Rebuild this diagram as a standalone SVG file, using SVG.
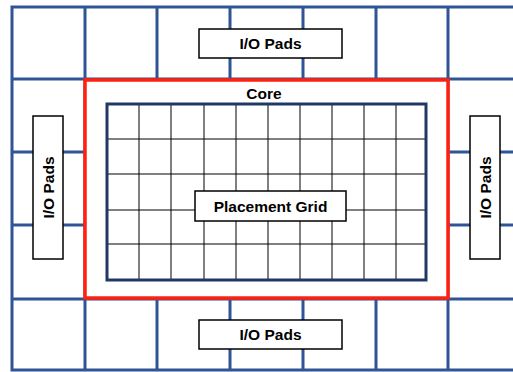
<svg xmlns="http://www.w3.org/2000/svg" width="513" height="372" viewBox="0 0 513 372">
<style>
.blue{stroke:#2F5597;stroke-width:3;fill:none;stroke-linecap:square}
.grid{stroke:#000;stroke-width:1;fill:none}
.box{fill:#fff;stroke:#000;stroke-width:1.5}
.lbl{font-family:"Liberation Sans",Arial,sans-serif;font-weight:bold;font-size:15.5px;fill:#000;text-anchor:middle}
</style>
<rect width="513" height="372" fill="#fff"/>
<g id="chip-frame">
<path class="blue" d="M12,7V370M12,7H515M12,370H515M12,79H515M12,299H515M12,152H85M12,225H85M448,152H515M448,225H515M85,7V370M448,7V370M157,7V79M230,7V79M303,7V79M376,7V79M157,299V370M230,299V370M303,299V370M376,299V370"/>
</g>
<g id="core">
<rect x="85" y="80" width="363" height="218" fill="#fff" stroke="#FF2010" stroke-width="3.5"/>
<text class="lbl" x="264" y="99">Core</text>
</g>
<g id="placement-grid">
<path class="grid" d="M139,104V280M171,104V280M204,104V280M236,104V280M268,104V280M300,104V280M332,104V280M364,104V280M396,104V280M107,139H426M107,174H426M107,210H426M107,244H426"/>
<rect x="107" y="104" width="319" height="176" fill="none" stroke="#1F3864" stroke-width="3"/>
<rect x="195" y="191" width="151" height="30" class="box"/>
<text class="lbl" x="270.5" y="211.5">Placement Grid</text>
</g>
<g id="io-top">
<rect x="199" y="29" width="143" height="29" class="box"/>
<text class="lbl" x="270.5" y="49">I/O Pads</text>
</g>
<g id="io-bottom">
<rect x="199" y="320" width="143" height="29" class="box"/>
<text class="lbl" x="270.5" y="340">I/O Pads</text>
</g>
<g id="io-left">
<rect x="33" y="116" width="30" height="143" class="box"/>
<text class="lbl" transform="translate(54,187.5) rotate(-90)">I/O Pads</text>
</g>
<g id="io-right">
<rect x="470" y="116" width="30" height="143" class="box"/>
<text class="lbl" transform="translate(491,187.5) rotate(-90)">I/O Pads</text>
</g>
</svg>
